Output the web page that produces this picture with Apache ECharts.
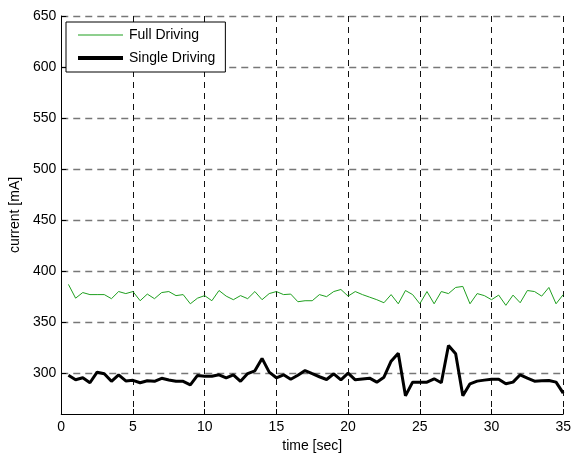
<!DOCTYPE html>
<html>
<head>
<meta charset="utf-8">
<script src="https://cdn.jsdelivr.net/npm/echarts@6/dist/echarts.min.js"></script>
<style>html,body{margin:0;padding:0;background:#fff}#c{width:574px;height:458px}</style>
</head>
<body>
<div id="c"></div>
<script>
const times = [0.5,1,1.5,2,2.5,3,3.5,4,4.5,5,5.5,6,6.5,7,7.5,8,8.5,9,9.5,10,10.5,11,11.5,12,12.5,13,13.5,14,14.5,15,15.5,16,16.5,17,17.5,18,18.5,19,19.5,20,20.5,21,21.5,22,22.5,23,23.5,24,24.5,25,25.5,26,26.5,27,27.5,28,28.5,29,29.5,30,30.5,31,31.5,32,32.5,33,33.5,34,34.5,35];
const fullDriving = [387,373.5,379,377,377,377,373,380,378,380,371,377.5,373,379,380,376,377,368,373.5,376,371,381,375.5,372,376,373,380,372,378,380,377,377.5,370,371,371,377,375,380,382,375.5,380,377,374.5,372,369,377,368,381,377,368,380,368,380,378,384,385,368,378,376,372,376.5,366.5,376.5,369,381,380,375.5,384,368,377];
const singleDriving = [298,293.5,295.5,290.6,301,299.5,292,298.4,292.4,293,290.6,292.6,292,295,293.3,292,292,288.6,297.8,297,297,298.4,295.3,298.4,292,299.6,302.3,314.5,301,295.5,298.4,294,298,302.6,299.5,296.5,293.8,299.4,293.5,300,293.5,294.3,295.1,291.2,296.1,311.8,319.6,277.8,291.2,291.2,291.2,294.5,290.6,327.2,319,277.8,289.6,292.2,293.2,294.1,294.1,289.6,291.2,298.4,295.1,292.2,292.5,292.8,291.2,280.4];
const yTicks = [300,350,400,450,500,550,600,650];
const seriesNames = ['Full Driving','Single Driving'];

const chart = echarts.init(document.getElementById('c'));
const font = 'Liberation Sans, Arial, sans-serif';
chart.setOption({
  animation: false,
  backgroundColor: '#fff',
  textStyle: {fontFamily: font},
  grid: {left: 60, right: 9, top: 16, bottom: 44},
  legend: {
    orient: 'vertical', left: 66, top: 22,
    itemWidth: 45, itemHeight: 14, itemGap: 9,
    padding: [6, 10, 7, 10],
    borderColor: '#000', borderWidth: 1, backgroundColor: '#fff',
    itemStyle: {opacity: 0},
    textStyle: {fontSize: 14, color: '#000', fontFamily: font, padding: [0, 0, 0, 1]},
    data: [
      {name: seriesNames[0], lineStyle: {width: 1}},
      {name: seriesNames[1], lineStyle: {width: 4}}
    ]
  },
  xAxis: {
    type: 'value', min: 0, max: 35, interval: 5,
    name: 'time [sec]', nameLocation: 'middle', nameGap: 23,
    nameTextStyle: {fontSize: 14, color: '#000'},
    axisLine: {show: true, onZero: false, lineStyle: {color: '#000', width: 1}},
    axisTick: {show: true, inside: true, length: 5, lineStyle: {color: '#000'}},
    axisLabel: {fontSize: 14, color: '#000', margin: 6},
    splitLine: {show: true, lineStyle: {color: '#111', width: 1, type: [6, 5]}}
  },
  yAxis: {
    type: 'value', min: 260, max: 650,
    name: 'current [mA]', nameLocation: 'middle', nameGap: 36,
    nameTextStyle: {fontSize: 14, color: '#000'},
    axisLine: {show: true, onZero: false, lineStyle: {color: '#000', width: 1}},
    axisTick: {show: true, inside: true, length: 5, lineStyle: {color: '#000'}, customValues: yTicks},
    axisLabel: {fontSize: 14, color: '#000', margin: 5, customValues: yTicks},
    splitLine: {show: true, lineStyle: {color: '#777', width: 1.3, type: [7, 5]}}
  },
  series: [
    {name: seriesNames[0], type: 'line', symbol: 'none', data: times.map((t,i)=>[t, fullDriving[i]]),
     lineStyle: {color: '#1f9f1f', width: 1}, itemStyle: {color: '#1f9f1f'}},
    {name: seriesNames[1], type: 'line', symbol: 'none', data: times.map((t,i)=>[t, singleDriving[i]]),
     lineStyle: {color: '#000', width: 3}, itemStyle: {color: '#000'}}
  ]
});
</script>
</body>
</html>
